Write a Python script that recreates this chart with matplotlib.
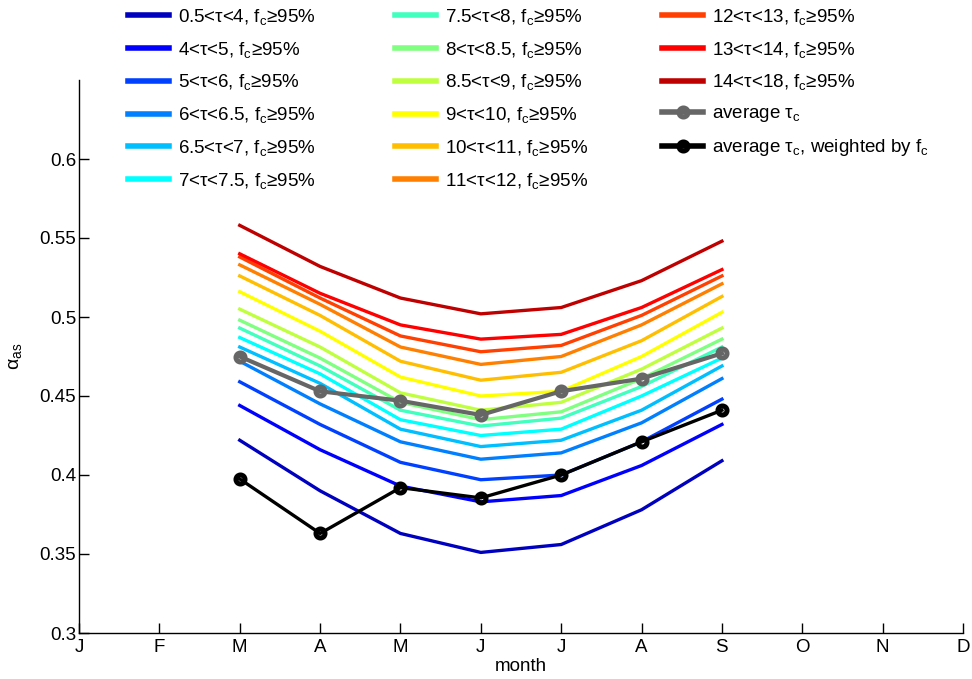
import matplotlib
matplotlib.use("Agg")
import matplotlib.pyplot as plt

plt.rcParams['font.family'] = ['Liberation Sans', 'DejaVu Sans']
plt.rcParams['mathtext.fontset'] = 'custom'
plt.rcParams['mathtext.rm'] = 'Liberation Sans'
plt.rcParams['mathtext.it'] = 'Liberation Sans:italic'
plt.rcParams['mathtext.bf'] = 'Liberation Sans:bold'

# months March..September
months = [3, 4, 5, 6, 7, 8, 9]
month_ticks = list(range(1, 13))
month_labels = ['J', 'F', 'M', 'A', 'M', 'J', 'J', 'A', 'S', 'O', 'N', 'D']

tau_bins = ['0.5<τ<4', '4<τ<5', '5<τ<6', '6<τ<6.5', '6.5<τ<7', '7<τ<7.5',
            '7.5<τ<8', '8<τ<8.5', '8.5<τ<9', '9<τ<10', '10<τ<11', '11<τ<12',
            '12<τ<13', '13<τ<14', '14<τ<18']

bin_colors = ['#0000bf', '#0000ff', '#0040ff', '#0080ff', '#00bfff', '#00ffff',
              '#40ffbf', '#80ff80', '#bfff40', '#ffff00', '#ffbf00', '#ff8000',
              '#ff4000', '#ff0000', '#bf0000']

alpha_tau_0p5_4 = [0.422, 0.390, 0.363, 0.351, 0.356, 0.378, 0.409]
alpha_tau_4_5 = [0.444, 0.416, 0.393, 0.383, 0.387, 0.406, 0.432]
alpha_tau_5_6 = [0.459, 0.432, 0.408, 0.397, 0.400, 0.421, 0.448]
alpha_tau_6_6p5 = [0.472, 0.445, 0.421, 0.410, 0.414, 0.433, 0.461]
alpha_tau_6p5_7 = [0.481, 0.458, 0.429, 0.418, 0.422, 0.441, 0.469]
alpha_tau_7_7p5 = [0.487, 0.464, 0.435, 0.425, 0.429, 0.450, 0.474]
alpha_tau_7p5_8 = [0.493, 0.469, 0.441, 0.431, 0.436, 0.456, 0.481]
alpha_tau_8_8p5 = [0.498, 0.474, 0.446, 0.435, 0.440, 0.461, 0.486]
alpha_tau_8p5_9 = [0.505, 0.481, 0.452, 0.441, 0.446, 0.467, 0.493]
alpha_tau_9_10 = [0.516, 0.491, 0.462, 0.450, 0.453, 0.475, 0.503]
alpha_tau_10_11 = [0.526, 0.501, 0.472, 0.460, 0.465, 0.485, 0.513]
alpha_tau_11_12 = [0.533, 0.508, 0.481, 0.470, 0.475, 0.495, 0.521]
alpha_tau_12_13 = [0.538, 0.512, 0.488, 0.478, 0.482, 0.501, 0.526]
alpha_tau_13_14 = [0.540, 0.515, 0.495, 0.486, 0.489, 0.506, 0.530]
alpha_tau_14_18 = [0.558, 0.532, 0.512, 0.502, 0.506, 0.523, 0.548]

alpha_by_bin = [alpha_tau_0p5_4, alpha_tau_4_5, alpha_tau_5_6, alpha_tau_6_6p5,
                alpha_tau_6p5_7, alpha_tau_7_7p5, alpha_tau_7p5_8, alpha_tau_8_8p5,
                alpha_tau_8p5_9, alpha_tau_9_10, alpha_tau_10_11, alpha_tau_11_12,
                alpha_tau_12_13, alpha_tau_13_14, alpha_tau_14_18]

alpha_avg_tau = [0.475, 0.453, 0.447, 0.438, 0.453, 0.461, 0.477]
alpha_avg_tau_weighted = [0.3975, 0.363, 0.392, 0.3855, 0.400, 0.421, 0.441]

fig = plt.figure(figsize=(9.72, 6.79), dpi=100)
ax = fig.add_axes([79 / 972, 1 - 633 / 679, (963 - 79) / 972, (633 - 80) / 679])

handles = []
for name, col, vals in zip(tau_bins, bin_colors, alpha_by_bin):
    h, = ax.plot(months, vals, color=col, lw=2.4, solid_joinstyle='round',
                 label=name + r', f$_{\rm c}$≥95%')
    handles.append(h)

h_avg, = ax.plot(months, alpha_avg_tau, color='#666666', lw=3.0, marker='o',
                 ms=6.5, mfc='none', mec='#666666', mew=3.6,
                 label=r'average τ$_{\rm c}$')
h_w, = ax.plot(months, alpha_avg_tau_weighted, color='black', lw=2.4, marker='o',
               ms=6.5, mfc='none', mec='black', mew=3.6,
               label=r'average τ$_{\rm c}$, weighted by f$_{\rm c}$')
handles += [h_avg, h_w]

ax.set_xlim(1, 12)
ax.set_ylim(0.3, 0.65)
ax.set_xticks(month_ticks)
ax.set_xticklabels(month_labels)
ax.set_yticks([0.3, 0.35, 0.4, 0.45, 0.5, 0.55, 0.6])
ax.set_yticklabels(['0.3', '0.35', '0.4', '0.45', '0.5', '0.55', '0.6'])
ax.tick_params(direction='in', length=7, width=1, labelsize=13.5, colors='black')
ax.tick_params(axis='x', pad=4)
ax.tick_params(axis='y', pad=2)
for s in ['top', 'right']:
    ax.spines[s].set_visible(False)
for s in ['left', 'bottom']:
    ax.spines[s].set_linewidth(1.0)

ax.set_xlabel('month', fontsize=13.5, labelpad=2)
ax.set_ylabel(r'α$_{\rm as}$', fontsize=14, labelpad=11)

col_x = [128 / 972, 395 / 972, 662 / 972]
col_items = [handles[0:6], handles[6:12], handles[12:17]]
for x0, items in zip(col_x, col_items):
    leg = fig.legend(handles=items, labels=[h.get_label() for h in items],
                     loc='upper left', bbox_to_anchor=(x0, 1 - 7 / 679),
                     frameon=False, fontsize=13.5, handlelength=2.19,
                     handletextpad=0.48, borderpad=0, borderaxespad=0,
                     labelspacing=0.68)
    for lh in leg.legend_handles:
        lh.set_linewidth(4.0)

fig.savefig('out.png', dpi=100)
